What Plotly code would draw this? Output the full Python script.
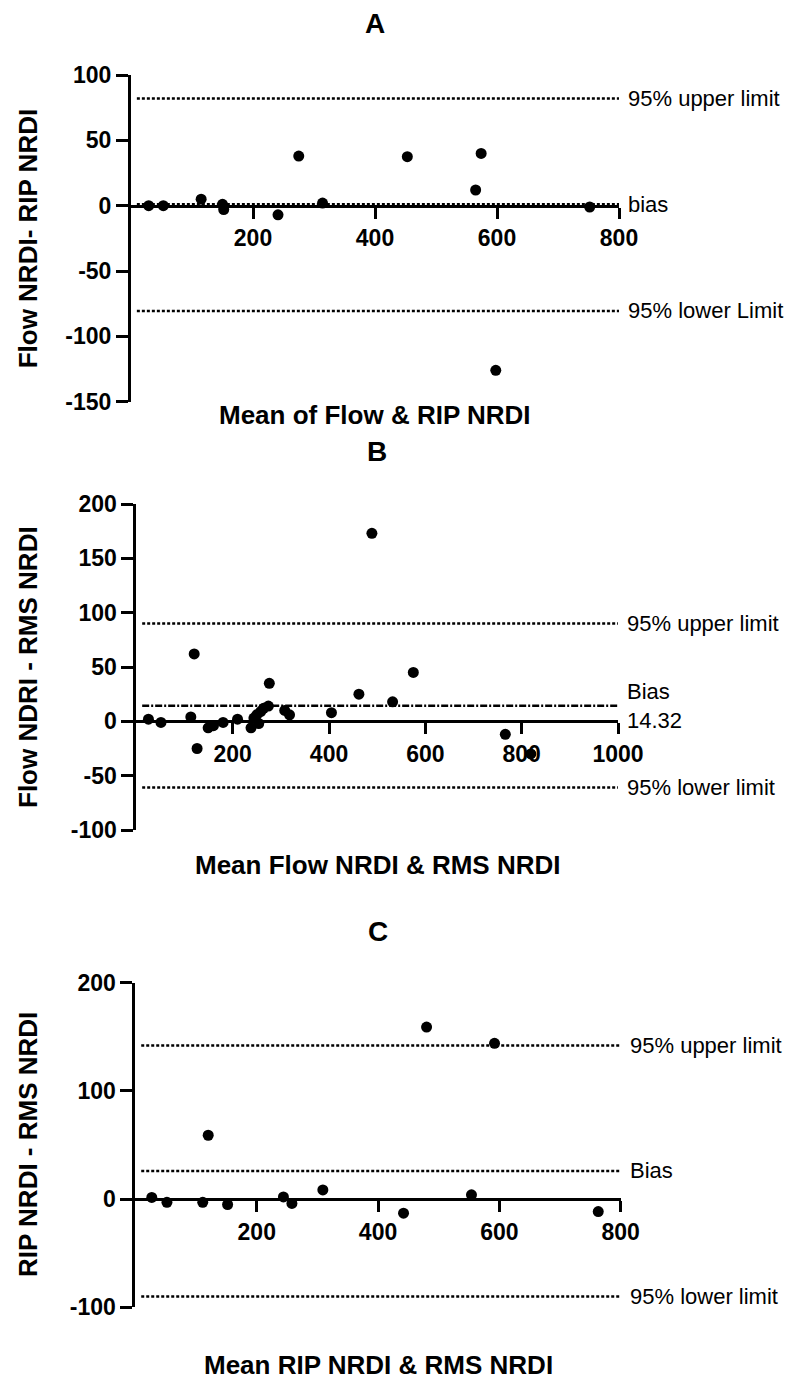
import plotly.graph_objects as go

W, H = 806, 1392

# Panel A: Flow NRDI vs RIP NRDI
a_mean = [29, 53, 115, 150, 152, 241, 275, 314, 453, 565, 574, 598, 752]
a_diff = [0, 0, 5, 1, -3, -7, 38, 2, 37.5, 12, 40, -126, -1]
a_upper, a_bias, a_lower = 82, 1, -80.5

# Panel B: Flow NRDI vs RMS NRDI
b_mean = [25, 51, 113, 120, 126, 149, 160, 180, 210, 238, 244, 250, 254, 258,
          264, 274, 276, 308, 318, 405, 462, 489, 532, 575, 766, 819]
b_diff = [2, -1, 4, 62, -25, -6, -4, -1, 2, -6, 3, 6, -2, 9,
          12, 14, 35, 10, 6, 8, 25, 173, 18, 45, -12, -30]
b_upper, b_bias, b_lower = 90, 14.32, -61

# Panel C: RIP NRDI vs RMS NRDI
c_mean = [27, 52, 111, 120, 152, 244, 258, 309, 442, 480, 554, 592, 763]
c_diff = [1.5, -3, -3, 59, -5, 2, -4, 8.5, -13, 159, 4, 144, -11.5]
c_upper, c_bias, c_lower = 142, 26, -90

panels = [
    dict(name="A", mean=a_mean, diff=a_diff, xr=[0, 800], yr=[-150, 100],
         xt=[200, 400, 600, 800], yt=[100, 50, 0, -50, -100, -150],
         px=(131, 619), py=(75, 401.7), title_y=23, xtitle_y=415,
         xtitle="Mean of Flow &amp; RIP NRDI", ytitle="Flow NRDI- RIP NRDI",
         lines=[(a_upper, "95% upper limit", "dot"), (a_bias, "bias", "dot"),
                (a_lower, "95% lower Limit", "dot")]),
    dict(name="B", mean=b_mean, diff=b_diff, xr=[0, 1000], yr=[-100, 200],
         xt=[200, 400, 600, 800, 1000], yt=[200, 150, 100, 50, 0, -50, -100],
         px=(136.4, 618), py=(504, 830), title_y=451, xtitle_y=865,
         xtitle="Mean Flow NRDI &amp; RMS NRDI", ytitle="Flow NDRI - RMS NRDI",
         lines=[(b_upper, "95% upper limit", "dot"),
                (b_bias, "Bias<br>" + f"{b_bias:.2f}", "dashdot"),
                (b_lower, "95% lower limit", "dot")]),
    dict(name="C", mean=c_mean, diff=c_diff, xr=[0, 800], yr=[-100, 200],
         xt=[200, 400, 600, 800], yt=[200, 100, 0, -100],
         px=(135.4, 620.7), py=(982.7, 1307.3), title_y=931, xtitle_y=1365,
         xtitle="Mean RIP NRDI &amp; RMS NRDI", ytitle="RIP NRDI - RMS NRDI",
         lines=[(c_upper, "95% upper limit", "dot"), (c_bias, "Bias", "dot"),
                (c_lower, "95% lower limit", "dot")]),
]

DASH = {"dot": "3px,2px", "dashdot": "7px,2px,2px,2px"}
FONT = "Liberation Sans, Arial, sans-serif"

fig = go.Figure()
layout = dict(template="none", width=W, height=H,
              margin=dict(l=0, r=0, t=0, b=0, pad=0),
              paper_bgcolor="white", plot_bgcolor="white", showlegend=False,
              font=dict(family=FONT, color="black"))
annotations, shapes = [], []

for i, p in enumerate(panels, start=1):
    xa = "xaxis" if i == 1 else f"xaxis{i}"
    ya = "yaxis" if i == 1 else f"yaxis{i}"
    xr_ = "x" if i == 1 else f"x{i}"
    yr_ = "y" if i == 1 else f"y{i}"

    x0, x1 = p["px"][0] / W, p["px"][1] / W
    ytop, ybot = 1 - p["py"][0] / H, 1 - p["py"][1] / H
    ymin, ymax = p["yr"]
    zero_pos = ybot + (0 - ymin) / (ymax - ymin) * (ytop - ybot)

    layout[xa] = dict(domain=[x0, x1], range=p["xr"], anchor="free", position=zero_pos,
                      automargin=False,
                      showline=True, linecolor="black", linewidth=3,
                      ticks="outside", ticklen=11, tickwidth=3, tickcolor="black",
                      tickvals=p["xt"], ticktext=[str(v) for v in p["xt"]],
                      showgrid=False, zeroline=False,
                      tickfont=dict(size=23, family=FONT, weight="bold"))
    layout[ya] = dict(domain=[ybot, ytop], range=p["yr"], anchor=xr_,
                      automargin=False,
                      showline=True, linecolor="black", linewidth=3,
                      ticks="outside", ticklen=12, tickwidth=3, tickcolor="black",
                      tickvals=p["yt"], ticktext=[str(v) for v in p["yt"]],
                      showgrid=False, zeroline=False,
                      tickfont=dict(size=23, family=FONT, weight="bold"))

    for val, label, style in p["lines"]:
        shapes.append(dict(type="line", xref=f"{xr_} domain", yref=yr_,
                           x0=0.012, x1=1, y0=val, y1=val,
                           line=dict(color="black", width=2.5, dash=DASH[style])))
        annotations.append(dict(text=label, xref=f"{xr_} domain", yref=yr_,
                                x=1, y=val, xanchor="left", yanchor="middle",
                                xshift=7, showarrow=False, align="left",
                                font=dict(size=22, family=FONT)))

    fig.add_trace(go.Scatter(x=p["mean"], y=p["diff"], mode="markers",
                             xaxis=xr_, yaxis=yr_, cliponaxis=False,
                             marker=dict(size=11, color="black", symbol="circle")))

    cx = (p["px"][0] + p["px"][1]) / 2 / W
    annotations.append(dict(text=p["name"], xref="paper", yref="paper",
                            x=cx, y=1 - p["title_y"] / H, showarrow=False,
                            xanchor="center", yanchor="middle",
                            font=dict(size=28, family=FONT, weight="bold")))
    annotations.append(dict(text=p["xtitle"], xref="paper", yref="paper",
                            x=cx, y=1 - p["xtitle_y"] / H, showarrow=False,
                            xanchor="center", yanchor="middle",
                            font=dict(size=26, family=FONT, weight="bold")))
    annotations.append(dict(text=p["ytitle"], xref="paper", yref="paper",
                            x=28 / W, y=(ytop + ybot) / 2, showarrow=False,
                            textangle=-90, xanchor="center", yanchor="middle",
                            font=dict(size=26, family=FONT, weight="bold")))

layout["annotations"] = annotations
layout["shapes"] = shapes
fig.update_layout(**layout)
fig.write_html("out.html")
